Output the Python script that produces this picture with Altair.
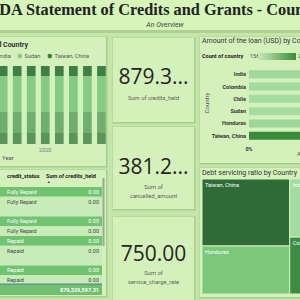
import altair as alt
import pandas as pd

# ---------------- data ----------------
years = ["2017", "2018", "2019", "2020", "2021", "2022", "2023", "2024"]
stack_countries = ["Honduras", "India", "Sudan", "Taiwan, China"]
stack_shares = [11, 21, 36, 10]
stack_colors = ["#5b955c", "#6fae6e", "#84cc83", "#3f7f46"]

loan_countries = ["India", "Colombia", "Chile", "Sudan", "Honduras", "Taiwan, China"]
loan_amounts = [0.62, 0.55, 0.48, 0.45, 0.70, 0.95]
country_counts = [160, 158, 157, 156, 162, 241]

table_status = ["Fully Repaid", "Fully Repaid", "Fully Repaid", "Fully Repaid",
                "Repaid", "Repaid", "Repaid", "Repaid"]
table_credits = [0.00, 0.00, 0.00, 0.00, 0.00, 0.00, 0.00, 0.00]
table_lines = [1, 2, 1, 1, 1, 2, 1, 1]

credits_held_total = 879329597.31
cancelled_total = 381245310.55
service_charge_total = 750.00

tree_countries = ["Taiwan, China", "Honduras", "India", "Colombia", "Chile", "Sudan"]
tree_ratio = [6.7, 4.8, 2.4, 2.35, 1.5, 1.0]
tree_colors = ["#2f6b37", "#7cc87b", "#a3dca0", "#3e8b45", "#5aa85b", "#8fd08b"]

# ---------------- style ----------------
SANS = "Roboto"
BG = "#c5e6a9"
PANEL = "#d4f1bc"
SHADOW = "#9fc487"
ONE = pd.DataFrame({"k": [0]})


def box(x0, y0, x1, y1, color, opacity=1.0):
    return alt.Chart(ONE).mark_rect(color=color, opacity=opacity).encode(
        x=alt.value(x0), x2=alt.value(x1), y=alt.value(y0), y2=alt.value(y1))


def panel(x0, y0, x1, y1):
    return [box(x0 - 1, y0 - 1, x1 + 2, y1 + 2, SHADOW, 0.35),
            box(x0, y0, x1 + 1, y1 + 1, SHADOW, 0.6),
            box(x0, y0, x1, y1, PANEL)]


def label(text, x, y, size=6, color="#444", weight="normal", align="left",
          font=SANS, style="normal", angle=0, baseline="middle"):
    return alt.Chart(ONE).mark_text(
        text=text, fontSize=size, color=color, fontWeight=weight, align=align,
        font=font, fontStyle=style, angle=angle, baseline=baseline
    ).encode(x=alt.value(x), y=alt.value(y))


layers = []

# header
layers += [box(0, 0, 300, 30, "#d5f5b9"), box(0, 30, 300, 33, "#a8cb92", 0.8)]
layers.append(label("IDA Statement of Credits and Grants - Country", -7, 15, size=16.3,
                    color="#222", weight="bold", font="Liberation Serif",
                    baseline="alphabetic"))
layers.append(label("An Overview", 165, 26.5, size=7, color="#444", align="center",
                    style="italic", baseline="alphabetic"))

# panels
for p in [(-5, 37, 106, 166), (-5, 170, 106, 296), (113, 38, 194, 122),
          (113, 127, 194, 209), (113, 217, 194, 300), (200, 37, 305, 163),
          (200, 168, 305, 297)]:
    layers += panel(*p)

# ---------- stacked columns (left top) ----------
stack_df = pd.DataFrame([
    {"year": y, "country": c, "share": s, "ord": i}
    for y in years for i, (c, s) in enumerate(zip(stack_countries, stack_shares))
])
xs = alt.Scale(range=[-1.2, 105.8], paddingInner=0.38, paddingOuter=0)
cols = alt.Chart(stack_df).mark_bar().encode(
    x=alt.X("year:N", sort=years, scale=xs, axis=None),
    y=alt.Y("share:Q", stack="normalize",
            scale=alt.Scale(domain=[0, 1], range=[144, 66], nice=False), axis=None),
    color=alt.Color("country:N",
                    scale=alt.Scale(domain=stack_countries, range=stack_colors),
                    legend=alt.Legend(orient="none", legendX=-47, legendY=53,
                                      direction="horizontal", title=None,
                                      symbolType="circle", symbolSize=22,
                                      symbolStrokeWidth=0, labelFontSize=5.6,
                                      labelColor="#555", labelFont=SANS,
                                      columnPadding=6, labelOffset=2, padding=0)),
    order=alt.Order("ord:Q"),
)
year_lbl = alt.Chart(pd.DataFrame({"year": [years[3]]})).mark_text(
    fontSize=5.5, color="#777", font=SANS).encode(
    x=alt.X("year:N", sort=years, axis=None), y=alt.value(150), text="year:N")
layers.append(alt.layer(cols, year_lbl))
layers.append(label("Sum of credits_held by Year and Country", 28, 45, size=7,
                    color="#333", weight="bold", align="right"))
layers.append(label("Year", 2, 158, size=6, color="#555"))

# ---------- table (left bottom) ----------
starts, ends, acc = [], [], 0
for n in table_lines:
    starts.append(acc)
    acc += n
    ends.append(acc)
tab_df = pd.DataFrame({
    "status": table_status, "credits": table_credits,
    "start": starts, "end": ends, "mid": [s + 0.5 for s in starts],
    "shade": ["g" if i % 2 == 0 else "l" for i in range(len(table_status))],
})
ys = alt.Scale(domain=[0, acc], range=[187, 285], nice=False, zero=False)
rows = alt.Chart(tab_df).mark_rect().encode(
    x=alt.value(0), x2=alt.value(102),
    y=alt.Y("start:Q", scale=ys, axis=None), y2="end:Q",
    color=alt.Color("shade:N", scale=alt.Scale(domain=["g", "l"],
                                               range=["#72c371", "#c8ecb8"]),
                    legend=None))
tcolor = alt.condition(alt.datum.shade == "g", alt.value("white"), alt.value("#444"))
st_txt = alt.Chart(tab_df).mark_text(align="left", fontSize=5.5, font=SANS).encode(
    x=alt.value(7), y=alt.Y("mid:Q", axis=None), text="status:N", color=tcolor)
val_txt = alt.Chart(tab_df).mark_text(align="right", fontSize=5.5, font=SANS).encode(
    x=alt.value(99), y=alt.Y("mid:Q", axis=None),
    text=alt.Text("credits:Q", format=".2f"), color=tcolor)
layers.append(alt.layer(rows, st_txt, val_txt))
layers += [
    label("credit_status", 7, 176, size=5.6, color="#222", weight="bold"),
    label("Sum of credits_held", 46, 176, size=5.6, color="#222", weight="bold"),
    label("▲", 47, 182, size=3.5, color="#333"),
    box(0, 284, 102, 295, "#6fbf6e"),
    box(0, 283.5, 102, 284.5, "#5a7fa0"),
    label(f"{credits_held_total:,.2f}", 99, 289.5, size=5.5, color="white",
          weight="bold", align="right"),
    box(102.5, 178, 104.5, 246, "#9aa79a"),
]

# ---------- cards ----------
def short(v):
    s = f"{v / 1e6:.2f}M"
    return s[:5] + "..."


cards = [(short(credits_held_total), ["Sum of credits_held"], 78, 98),
         (short(cancelled_total), ["Sum of", "cancelled_amount"], 168, 187),
         (f"{service_charge_total:.2f}", ["Sum of", "service_charge_rate"], 255, 273)]
for big, subs, yb, ys0 in cards:
    layers.append(label(big, 153.5, yb, size=21, color="#252423", align="center",
                        font="Open Sans"))
    for k, s in enumerate(subs):
        layers.append(label(s, 153.5, ys0 + 8.5 * k, size=5.8, color="#605e5c",
                            align="center"))

# ---------- horizontal bars (right top) ----------
loan_df = pd.DataFrame({"country": loan_countries, "amount": loan_amounts,
                        "count": country_counts})
ysc = alt.Scale(range=[70.2, 139.8], paddingInner=0.35, paddingOuter=0)
hbars = alt.Chart(loan_df).mark_bar().encode(
    y=alt.Y("country:N", sort=loan_countries, scale=ysc, axis=None),
    x=alt.X("amount:Q", scale=alt.Scale(domain=[0, 1], range=[249, 430], nice=False),
            axis=None),
    color=alt.Color("count:Q", scale=alt.Scale(domain=[min(country_counts),
                                                       max(country_counts)],
                                               range=["#a6dca1", "#3a8a3c"]),
                    legend=None))
clabels = alt.Chart(loan_df).mark_text(align="right", fontSize=5.5, font=SANS,
                                       fontWeight="bold", color="#333").encode(
    y=alt.Y("country:N", sort=loan_countries, axis=None), x=alt.value(246),
    text="country:N")
zero_lbl = alt.Chart(pd.DataFrame({"amount": [0.0]})).mark_text(
    fontSize=5.5, font=SANS, fontWeight="bold", color="#333").encode(
    x=alt.X("amount:Q", axis=None), y=alt.value(149),
    text=alt.Text("amount:Q", format=".0%"))
layers.append(alt.layer(hbars, clabels, zero_lbl))
grad = alt.Gradient(gradient="linear",
                    stops=[alt.GradientStop(color="#c8ebba", offset=0),
                           alt.GradientStop(color="#3a8c3c", offset=1)],
                    x1=0, x2=1, y1=0, y2=0)
layers += [
    label("Amount of the loan (USD) by Country", 202, 41, size=7, color="#333"),
    label("Count of country", 202, 56, size=5.5, color="#222", weight="bold"),
    label(str(min(country_counts)), 250, 56, size=5.5, color="#444"),
    alt.Chart(ONE).mark_rect(color=grad).encode(
        x=alt.value(258), x2=alt.value(296), y=alt.value(53), y2=alt.value(60)),
    label(str(max(country_counts)), 298, 56, size=5.5, color="#444"),
    label("Country", 207, 103, size=6, color="#555", angle=270, align="center"),
    label("Amount of the loan (USD)", 297, 154, size=6, color="#555"),
]

# ---------- treemap (right bottom) ----------
TW, TH = 143.0, 115.0


def column_squarify(values, W, H):
    total = sum(values)
    areas = [v * W * H / total for v in values]

    def worst(c):
        w = sum(c) / H
        return max(max(w / (a / w), (a / w) / w) for a in c)

    out, x, i = [], 0.0, 0
    while i < len(areas):
        col, j = [areas[i]], i + 1
        while j < len(areas) and worst(col + [areas[j]]) <= worst(col):
            col.append(areas[j])
            j += 1
        w = sum(col) / H
        y = 0.0
        for a in col:
            h = a / w
            out.append((x, y, x + w, y + h))
            y += h
        x += w
        i = j
    return out


rects = column_squarify(tree_ratio, TW, TH)
tree_df = pd.DataFrame({
    "country": tree_countries, "ratio": tree_ratio,
    "x0": [r[0] for r in rects], "y0": [r[1] for r in rects],
    "x1": [r[2] for r in rects], "y1": [r[3] for r in rects],
})
txs = alt.Scale(domain=[0, TW], range=[202, 202 + TW], nice=False, zero=False)
tys = alt.Scale(domain=[0, TH], range=[179, 179 + TH], nice=False, zero=False)
cells = alt.Chart(tree_df).mark_rect(stroke=PANEL, strokeWidth=1).encode(
    x=alt.X("x0:Q", scale=txs, axis=None), x2="x1:Q",
    y=alt.Y("y0:Q", scale=tys, axis=None), y2="y1:Q",
    color=alt.Color("country:N", scale=alt.Scale(domain=tree_countries,
                                                 range=tree_colors), legend=None))
ctext = alt.Chart(tree_df).mark_text(align="left", baseline="middle", dx=3, dy=6,
                                     fontSize=5.5, font=SANS, color="white").encode(
    x=alt.X("x0:Q", axis=None), y=alt.Y("y0:Q", axis=None), text="country:N")
layers.append(alt.layer(cells, ctext))
layers.append(label("Debt servicing ratio by Country", 202, 173, size=7, color="#333"))

chart = alt.layer(*layers).resolve_scale(
    x="independent", y="independent", color="independent"
).properties(
    width=300, height=300, autosize="none", padding=0, background=BG
).configure_view(stroke=None)

chart.save("out.html", embed_options={"renderer": "svg", "actions": False})
